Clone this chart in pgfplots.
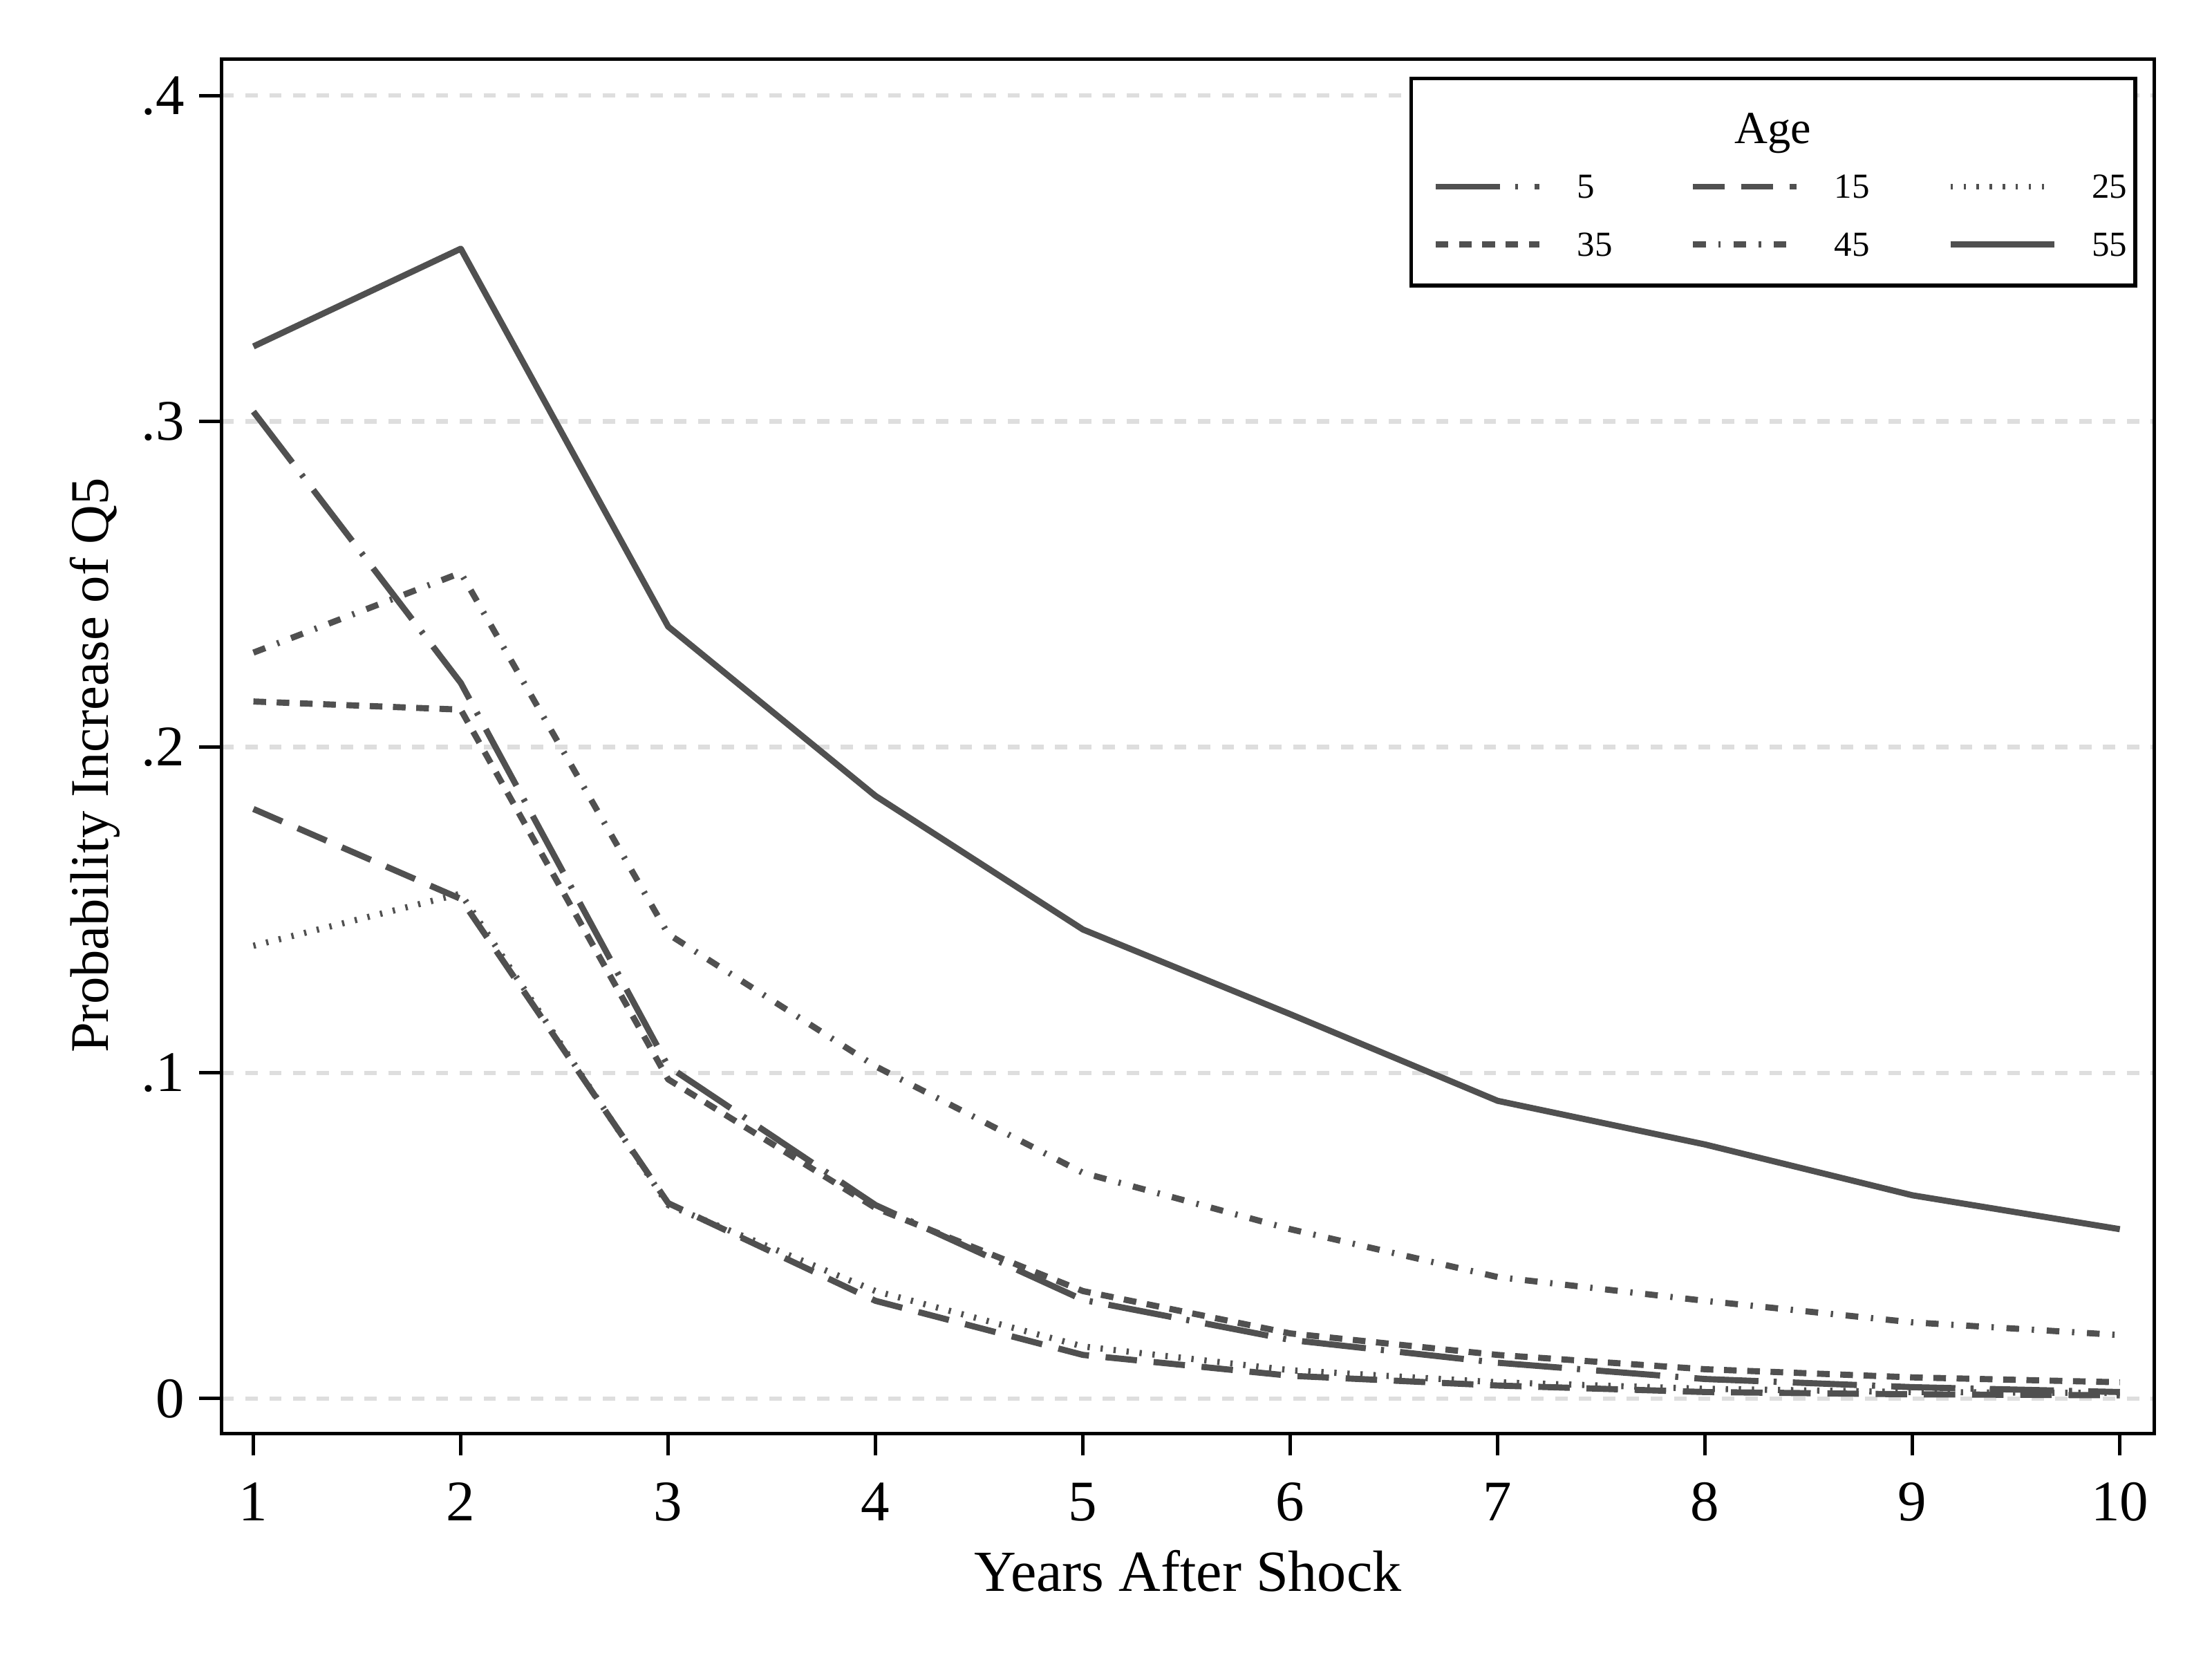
\documentclass[border=0pt]{standalone}
\usepackage{fontspec}
\setmainfont{Liberation Serif}
\usepackage{pgfplots}
\pgfplotsset{compat=1.18}
\definecolor{lc}{RGB}{80,80,80}
\definecolor{gc}{RGB}{222,222,222}
\begin{document}
\begin{tikzpicture}
\begin{axis}[
  scale only axis, width=503.2bp, height=357.8bp,
  xmin=0.8467, xmax=10.1667, ymin=-0.01068, ymax=0.41131,
  axis line style={line width=0.9bp, black},
  xtick={1,2,3,4,5,6,7,8,9,10}, xticklabels={1,2,3,4,5,6,7,8,9,10},
  ytick={0,0.1,0.2,0.3,0.4}, yticklabels={0,.1,.2,.3,.4},
  tick align=outside, major tick length=5.8bp,
  tick style={line width=0.9bp, black},
  xtick pos=left, ytick pos=left,
  ymajorgrids, grid style={gc, line width=1.15bp, dash pattern=on 3.2bp off 3bp},
  xticklabel style={font=\fontsize{15}{18}\selectfont, anchor=base, inner sep=0pt, yshift=-16.9bp},
  yticklabel style={font=\fontsize{15}{18}\selectfont, anchor=east, inner sep=0pt, xshift=-3.7bp},
  xlabel={Years After Shock},
  ylabel={Probability Increase of Q5},
  xlabel style={font=\fontsize{15.2}{17}\selectfont, at={(axis description cs:0.5,-0.1146)}, anchor=base, inner sep=0pt},
  ylabel style={font=\fontsize{14.2}{17}\selectfont, at={(axis description cs:-0.0588,0.486)}, anchor=base, inner sep=0pt},
  legend columns=3, legend cell align=left,
  legend image code/.code={\draw[#1] (0bp,0bp) -- (27bp,0bp);},
  legend style={draw=none, fill=none, inner sep=0pt, outer sep=0pt,
    at={(rel axis cs:0.6266,0.91546)}, anchor=north west,
    font=\fontsize{9.2}{10}\selectfont, row sep=8.9bp,
    nodes={inner sep=0pt, text height=6.1bp, text depth=0pt, text width=15bp, align=left},
    /tikz/every odd column/.append style={column sep=9bp},
    /tikz/every even column/.append style={column sep=14.4bp}},
  every axis plot/.append style={lc, line width=1.6bp, line cap=butt, line join=round},
]
% Age 5
\addplot[dash pattern=on 16.7bp off 3.95bp on 0.8bp off 4.2bp] coordinates {
 (1,0.303) (2,0.2197) (3,0.102) (4,0.0594) (5,0.0303) (6,0.018) (7,0.011) (8,0.006) (9,0.0035) (10,0.002)};
\addlegendentry{5}
% Age 15
\addplot[dash pattern=on 8.2bp off 4.35bp] coordinates {
 (1,0.181) (2,0.1534) (3,0.060) (4,0.030) (5,0.0134) (6,0.007) (7,0.004) (8,0.002) (9,0.0013) (10,0.001)};
\addlegendentry{15}
% Age 25
\addplot[dash pattern=on 0.6bp off 2.8bp] coordinates {
 (1,0.139) (2,0.155) (3,0.0594) (4,0.033) (5,0.016) (6,0.0087) (7,0.005) (8,0.003) (9,0.002) (10,0.0017)};
\addlegendentry{25}
% Age 35
\addplot[dash pattern=on 3.3bp off 2.76bp] coordinates {
 (1,0.214) (2,0.2115) (3,0.098) (4,0.0585) (5,0.033) (6,0.020) (7,0.0134) (8,0.009) (9,0.0065) (10,0.005)};
\addlegendentry{35}
% Age 45
\addplot[dash pattern=on 3.3bp off 3.3bp on 0.6bp off 3.3bp] coordinates {
 (1,0.229) (2,0.2535) (3,0.1426) (4,0.102) (5,0.0693) (6,0.052) (7,0.0373) (8,0.030) (9,0.0234) (10,0.0195)};
\addlegendentry{45}
% Age 55
\addplot[solid] coordinates {
 (1,0.323) (2,0.353) (3,0.237) (4,0.185) (5,0.144) (6,0.118) (7,0.0914) (8,0.078) (9,0.0624) (10,0.052)};
\addlegendentry{55}
\draw[black, line width=1bp, fill=white] (rel axis cs:0.6155,0.8349) rectangle (rel axis cs:0.9900,0.98576);
\node[font=\fontsize{12}{14}\selectfont, anchor=base, inner sep=0pt] at (rel axis cs:0.8027,0.9385) {Age};
\end{axis}
\pgfresetboundingbox
\path ([shift={(-57.7bp,-58.85bp)}]current axis.south west) rectangle ([shift={(15bp,15.3bp)}]current axis.north east);
\end{tikzpicture}
\end{document}
